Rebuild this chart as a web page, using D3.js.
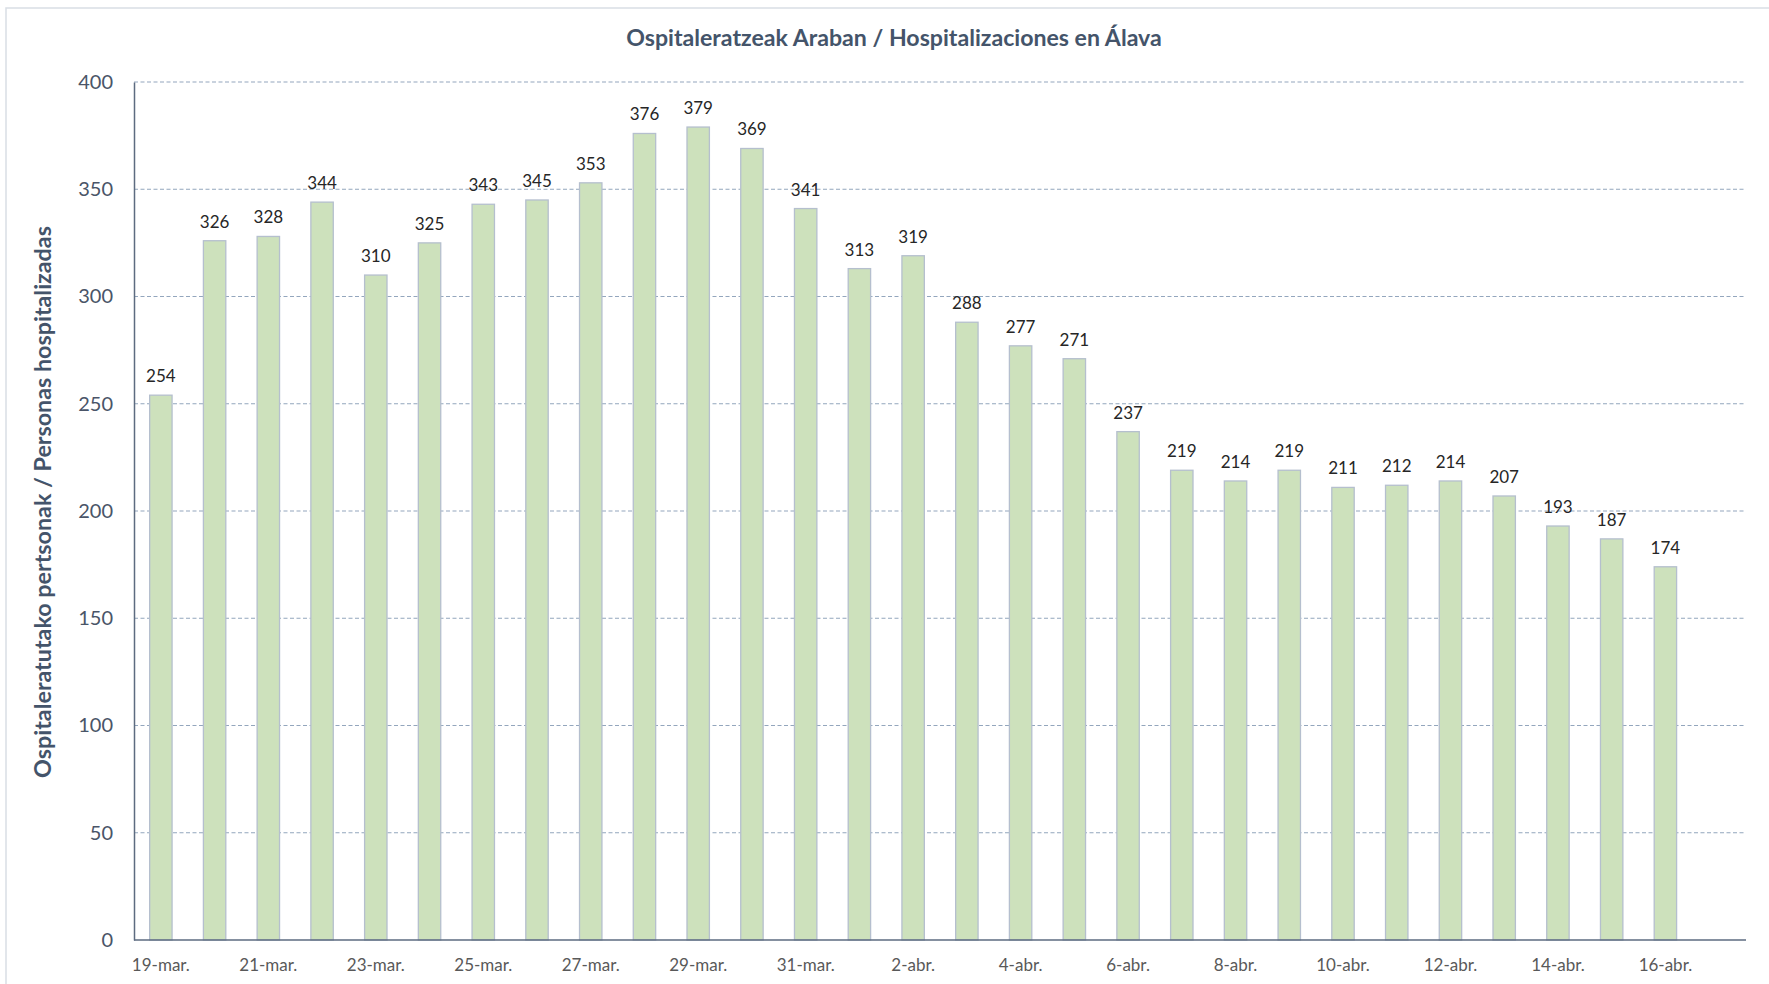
<!DOCTYPE html>
<html>
<head>
<meta charset="utf-8">
<script src="https://cdn.jsdelivr.net/npm/d3@7/dist/d3.min.js"></script>
<style>
  html, body { margin: 0; padding: 0; background: #ffffff; }
  svg { display: block; }
</style>
</head>
<body>
<svg id="chart" width="1769" height="984"></svg>
<script>
const categories = ["19-mar.","20-mar.","21-mar.","22-mar.","23-mar.","24-mar.","25-mar.","26-mar.","27-mar.","28-mar.","29-mar.","30-mar.","31-mar.","1-abr.","2-abr.","3-abr.","4-abr.","5-abr.","6-abr.","7-abr.","8-abr.","9-abr.","10-abr.","11-abr.","12-abr.","13-abr.","14-abr.","15-abr.","16-abr."];
const values = [254,326,328,344,310,325,343,345,353,376,379,369,341,313,319,288,277,271,237,219,214,219,211,212,214,207,193,187,174];
const yTicks = [0,50,100,150,200,250,300,350,400];
const titleText = "Ospitaleratzeak Araban / Hospitalizaciones en Álava";
const yTitleText = "Ospitaleratutako pertsonak / Personas hospitalizadas";

(function () {
const svg = d3.select("#chart");
const W = 1769, H = 984;
const mLeft = 134, mRight = 1746, mTop = 82, mBottom = 940;
const font = "Lato, 'Open Sans', sans-serif";

// outer frame
svg.append("rect").attr("x", 6).attr("y", 8).attr("width", W).attr("height", H)
  .attr("fill", "none").attr("stroke", "#D9DEE5").attr("stroke-width", 1.5);

// one extra empty slot after the last date
const slots = categories.concat([""]);
const x = d3.scaleBand().domain(d3.range(slots.length)).range([mLeft, mRight]).paddingInner(0.583).paddingOuter(0.2915);
const y = d3.scaleLinear().domain([0, 400]).range([mBottom, mTop]);

// gridlines
svg.append("g").selectAll("line").data(yTicks.filter(t => t > 0)).join("line")
  .attr("x1", mLeft).attr("x2", mRight)
  .attr("y1", d => y(d)).attr("y2", d => y(d))
  .attr("stroke", "#93A6BD").attr("stroke-width", 1.1).attr("stroke-dasharray", "4,2.5");

// bars
svg.append("g").selectAll("rect").data(values).join("rect")
  .attr("x", (d, i) => x(i)).attr("width", x.bandwidth())
  .attr("y", d => y(d)).attr("height", d => y(0) - y(d))
  .attr("fill", "#CDE1BC").attr("stroke", "#B5BFCE").attr("stroke-width", 1.3);

// data labels
svg.append("g").selectAll("text").data(values).join("text")
  .attr("x", (d, i) => x(i) + x.bandwidth() / 2)
  .attr("y", d => y(d) - 13)
  .attr("text-anchor", "middle")
  .attr("font-family", font).attr("font-size", 17).attr("fill", "#262626")
  .text(d => d);

// y axis
const yAxis = d3.axisLeft(y).tickValues(yTicks).tickSize(0).tickPadding(21);
const gy = svg.append("g").attr("transform", `translate(${mLeft},0)`).call(yAxis);
gy.select(".domain").attr("stroke", "#5D6B80").attr("stroke-width", 1.5);
gy.selectAll("text").attr("font-family", font).attr("font-size", 20).attr("fill", "#4A5568");

// x axis
const xAxis = d3.axisBottom(x).tickSize(0).tickPadding(19)
  .tickFormat(i => (i % 2 === 0 && i < categories.length) ? categories[i] : "");
const gx = svg.append("g").attr("transform", `translate(0,${mBottom})`).call(xAxis);
gx.select(".domain").attr("stroke", "#5D6B80").attr("stroke-width", 1.5).attr("d", `M${mLeft},0H${mRight}`);
gx.selectAll("text").attr("font-family", font).attr("font-size", 17).attr("fill", "#595959");

// title
const title = svg.append("text").attr("x", 894).attr("y", 46)
  .attr("text-anchor", "middle").attr("font-family", font).attr("font-weight", "bold")
  .attr("font-size", 20).attr("fill", "#44546A").text(titleText);
{
  const len = title.node().getComputedTextLength();
  title.attr("font-size", 20 * 536 / len);
}

// y title
const yt = svg.append("text").attr("transform", "translate(51,502) rotate(-90)")
  .attr("text-anchor", "middle").attr("font-family", font).attr("font-weight", "bold")
  .attr("font-size", 22).attr("fill", "#44546A").text(yTitleText);
{
  const len = yt.node().getComputedTextLength();
  yt.attr("font-size", 22 * 552 / len);
}
})();
</script>
</body>
</html>
